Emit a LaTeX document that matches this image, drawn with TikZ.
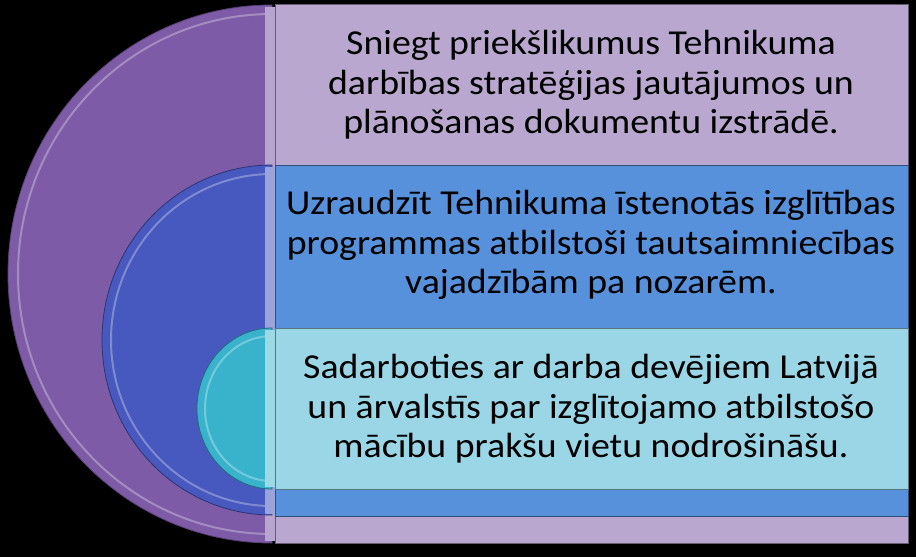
\documentclass[tikz,border=0pt]{standalone}
\usepackage{fontspec}
\setmainfont{Carlito}[FakeStretch=1.08]
\usetikzlibrary{positioning}
\definecolor{violetdisc}{HTML}{7E5BA7}
\definecolor{violetbox}{HTML}{B9A7CF}
\definecolor{bluedisc}{HTML}{4759BE}
\definecolor{bluebox}{HTML}{5790DB}
\definecolor{cyandisc}{HTML}{39B3CC}
\definecolor{cyanbox}{HTML}{9BD6E7}
\begin{document}
\begin{tikzpicture}[x=1pt, y=-1pt,
  boxtext/.style={align=center, inner sep=0pt, text=black,
    font=\fontsize{35}{39.5}\selectfont},
  rim/.style={draw=white, draw opacity=0.3, line width=2pt},
  edge/.style={draw=#1, line width=0.8pt}]
  \useasboundingbox[fill=black] (0,0) rectangle (916,557);
  % half discs
  \fill[violetdisc, edge=violetdisc!70!black] (272,5) arc[start angle=-90, end angle=-270, x radius=264, y radius=269] -- cycle;
  \draw[rim] (272,14) arc[start angle=-90, end angle=-270, x radius=254, y radius=260];
  \fill[violetdisc!55!white] (265,7) rectangle (276,541);
  \fill[violetbox, edge=violetbox!55!black] (275,4) rectangle (908,543);
  \fill[bluedisc, edge=bluedisc!60!black] (272,165) arc[start angle=-90, end angle=-270, x radius=170, y radius=175] -- cycle;
  \draw[rim] (272,174) arc[start angle=-90, end angle=-270, x radius=161, y radius=166];
  \fill[bluedisc!55!white] (265,167) rectangle (276,514);
  \fill[bluebox, edge=bluebox!55!black] (275,165) rectangle (908,516);
  \fill[cyandisc, edge=cyandisc!60!black] (272,328) arc[start angle=-90, end angle=-270, x radius=75, y radius=80.5] -- cycle;
  \draw[rim] (272,336) arc[start angle=-90, end angle=-270, x radius=67, y radius=72.5];
  \fill[cyandisc!50!white] (265,330) rectangle (276,487);
  \fill[cyanbox, edge=cyanbox!55!black] (275,328) rectangle (908,489);
  % texts
  \node[boxtext] (plan) at (591,85) {Sniegt priekšlikumus Tehnikuma\\darbības stratēģijas jautājumos un\\plānošanas dokumentu izstrādē.};
  \node[boxtext] (prog) at (591,245) {Uzraudzīt Tehnikuma īstenotās izglītības\\programmas atbilstoši tautsaimniecības\\vajadzībām pa nozarēm.};
  \node[boxtext] (prak) at (591,409) {Sadarboties ar darba devējiem Latvijā\\un ārvalstīs par izglītojamo atbilstošo\\mācību prakšu vietu nodrošināšu.};
\end{tikzpicture}
\end{document}
